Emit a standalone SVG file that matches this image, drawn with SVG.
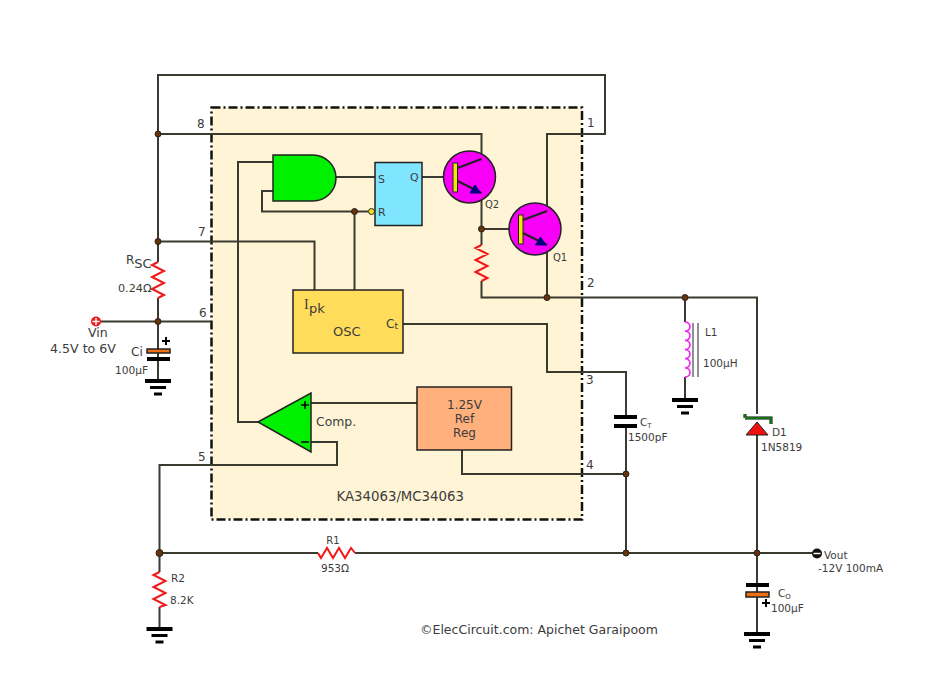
<svg xmlns="http://www.w3.org/2000/svg" width="936" height="692" viewBox="0 0 936 692">
<style>
text{font-family:"DejaVu Sans","Verdana",sans-serif;font-size:12px;fill:#3c3c3c}
.w{fill:none;stroke:#3a3a30;stroke-width:2}
.r{fill:none;stroke:#f01818;stroke-width:2}
.j{fill:#6b3208;stroke:#222;stroke-width:1}
.e{fill:none;stroke:#222;stroke-width:2}
.o{stroke:#222;stroke-width:1.5}
.m{text-anchor:middle}
</style>
<defs>
<g id="gnd"><path d="M-13 0H13" stroke="#000" stroke-width="4"/><path d="M-8 6.500H8" stroke="#000" stroke-width="3"/><path d="M-4 13H4" stroke="#000" stroke-width="3"/></g>
<g id="npn"><circle r="26" fill="#f800f8" stroke="#222" stroke-width="1.500"/><rect x="-16.500" y="-14" width="4.500" height="29" fill="#f0e800" stroke="#222"/><path d="M-12 -9L12 -18M-12 4L12 16" class="e"/><path d="M0.500 16H11L5.500 8Z" fill="#000080" stroke="#000080"/></g>
</defs>
<rect id="ic" x="211.500" y="107.500" width="370.500" height="412" fill="#fff5d6" stroke="#111" stroke-width="2.500" stroke-dasharray="9 3 2 3"/>
<g id="connectors">
<path class="w" d="M158 134V75H605V134H547V210M158 134H481.500V160"/>
<path class="w" d="M158 134V262M158 298V381M96 321.500H211M158 241.500H314.500V290"/>
<path class="w" d="M481.500 192V245M481.500 281V297.500H757V414M757 435V634M547 245V297.500"/>
<path class="w" d="M685 297.500V322M685 377V400M481.500 229H522M422 177H455M335 177H375"/>
<path class="w" d="M273 162H238V422H258M273 191H262V211.500H368M354.500 211.500V290"/>
<path class="w" d="M403 324H547V372H626V416M626 426V553M311 403H417M311 442H337V465H159.500V572M159.500 607V629"/>
<path class="w" d="M462 450V474H626M159.500 553H318M355 553H813"/>
</g>
<g id="q2" transform="translate(469.500 177)"><use href="#npn"/></g>
<g id="q1" transform="translate(535 229)"><use href="#npn"/></g>
<g id="and"><path d="M273 155H313A23 23 0 0 1 313 201H273Z" fill="#00f000" stroke="#222" stroke-width="1.500"/></g>
<g id="ff"><rect x="375" y="162.500" width="47" height="63" fill="#80e5ff" stroke="#222" stroke-width="1.500"/><circle cx="371.500" cy="211.500" r="3" fill="#f0e020" stroke="#222"/><text x="378" y="183" style="font-size:11px">S</text><text x="410" y="181" style="font-size:11px">Q</text><text x="378" y="216" style="font-size:11px">R</text></g>
<g id="osc"><rect x="293" y="290" width="110" height="63" fill="#ffdc5a" stroke="#222" stroke-width="1.500"/><text x="304" y="309" style="font-size:14px;font-family:'Liberation Serif',serif">I</text><text x="309" y="313" style="font-size:13px">pk</text><text x="333" y="336" style="font-size:13px">OSC</text><text x="386" y="328" style="font-size:12px">C<tspan style="font-size:9px" dy="1">t</tspan></text></g>
<g id="ref"><rect x="417" y="387" width="94.500" height="63" fill="#ffb07c" stroke="#222" stroke-width="1.500"/><text x="464.500" y="409" class="m">1.25V</text><text x="464.500" y="423" class="m">Ref</text><text x="464.500" y="437" class="m">Reg</text></g>
<g id="comp"><path d="M258 422L311 393V452Z" fill="#00f000" stroke="#222" stroke-width="1.500"/><path d="M301 405H309M305 401V409M301 442H309" stroke="#000" stroke-width="1.500"/><text x="316" y="426" style="font-size:12.400px">Comp.</text></g>
<g id="rsc"><path class="r" d="M158 262L152 265L164 271L152 277L164 283L152 289L164 295L158 298"/><text x="126" y="264" style="font-size:12px">R<tspan style="font-size:13px" dy="4">SC</tspan></text><text x="118" y="292" style="font-size:11.200px">0.24Ω</text></g>
<g id="rint"><path class="r" d="M481.500 245L475.500 248L487.500 254L475.500 260L487.500 266L475.500 272L487.500 278L481.500 281"/></g>
<g id="r1"><path class="r" d="M318 553L321 558L327 548L333 558L339 548L345 558L351 548L355 553"/><text x="333" y="544" class="m" style="font-size:10px">R1</text><text x="335" y="572" class="m" style="font-size:10.500px">953Ω</text></g>
<g id="r2"><path class="r" d="M159.500 572L153.500 575L165.500 581L153.500 587L165.500 593L153.500 599L165.500 605L159.500 607"/><text x="171" y="582" style="font-size:10.500px">R2</text><text x="170" y="604" style="font-size:10.500px">8.2K</text></g>
<g id="vin"><circle cx="96" cy="321.500" r="5" fill="#f01818"/><path d="M92.500 321.500H99.500M96 318V325" stroke="#fff" stroke-width="1.500"/><text x="88" y="337" style="font-size:12.600px">Vin</text><text x="50" y="353" style="font-size:12.600px">4.5V to 6V</text></g>
<g id="ci"><rect x="147" y="349" width="23" height="4" fill="#f07010" class="o"/><path d="M147 359H170" stroke="#000" stroke-width="4"/><path d="M162 341H170M166 337V345" stroke="#000" stroke-width="2"/><text x="131" y="356">Ci</text><text x="115" y="374" style="font-size:10.600px">100μF</text><use href="#gnd" x="158" y="381"/></g>
<g id="g1"><use href="#gnd" x="159.500" y="629"/></g>
<g id="ct"><path d="M614 417H637M614 426H637" stroke="#000" stroke-width="4"/><text x="640" y="426" style="font-size:10.500px">C<tspan style="font-size:7px" dy="2">T</tspan></text><text x="628" y="441" style="font-size:10.500px">1500pF</text></g>
<g id="l1"><path d="M685 322a5 4.580 0 0 1 0 9.170a5 4.580 0 0 1 0 9.170a5 4.580 0 0 1 0 9.170a5 4.580 0 0 1 0 9.170a5 4.580 0 0 1 0 9.170a5 4.580 0 0 1 0 9.170" fill="none" stroke="#f030f0" stroke-width="1.800"/><path d="M693 323V377M698 323V377" stroke="#555" stroke-width="1.300"/><text x="705" y="336" style="font-size:10.500px">L1</text><text x="703" y="367" style="font-size:10.500px">100μH</text><use href="#gnd" x="685" y="400"/></g>
<g id="d1"><path d="M757 422L768 435H746Z" fill="#f01010" stroke="#222"/><path d="M745 418V414M745 418H771V424" fill="none" stroke="#000" stroke-width="3"/><path d="M745 418V414M745 418H771V424" fill="none" stroke="#1a9a1a" stroke-width="1.500"/><text x="772" y="436" style="font-size:10.500px">D1</text><text x="761" y="451" style="font-size:10.500px">1N5819</text></g>
<g id="co"><path d="M746 585H769" stroke="#000" stroke-width="4"/><rect x="746" y="592" width="23" height="5" fill="#f07010" class="o"/><path d="M762 603H770M766 599V607" stroke="#000" stroke-width="2"/><text x="778" y="597" style="font-size:10.500px">C<tspan style="font-size:7px" dy="2">O</tspan></text><text x="771" y="612" style="font-size:10.500px">100μF</text><use href="#gnd" x="757" y="634"/></g>
<g id="vout"><circle cx="817" cy="553.500" r="5" fill="#111"/><path d="M813.500 553.500H820.500" stroke="#fff" stroke-width="1.500"/><text x="824" y="559" style="font-size:10.500px">Vout</text><text x="818" y="572" style="font-size:10.500px">-12V 100mA</text></g>
<g id="junctions">
<circle class="j" cx="158" cy="134" r="3"/><circle class="j" cx="158" cy="241.500" r="3"/><circle class="j" cx="158" cy="321.500" r="3"/><circle class="j" cx="354.500" cy="211.500" r="3"/><circle class="j" cx="481.500" cy="229" r="3"/><circle class="j" cx="547" cy="297.500" r="3"/><circle class="j" cx="685" cy="297.500" r="3"/><circle class="j" cx="626" cy="474" r="3"/><circle class="j" cx="626" cy="553" r="3"/><circle class="j" cx="757" cy="553" r="3"/><circle class="j" cx="159.500" cy="553" r="3.500"/>
</g>
<g id="labels">
<text x="197" y="128">8</text><text x="198" y="236">7</text><text x="199" y="317">6</text><text x="198" y="461">5</text><text x="587" y="127">1</text><text x="587" y="287">2</text><text x="586" y="384">3</text><text x="586" y="469">4</text>
<text x="485" y="208" style="font-size:10px">Q2</text><text x="553" y="261" style="font-size:10px">Q1</text>
<text x="336.500" y="501" style="font-size:13.300px">KA34063/MC34063</text>
<text x="420" y="634" style="font-size:12.500px">©ElecCircuit.com: Apichet Garaipoom</text>
</g>
</svg>
